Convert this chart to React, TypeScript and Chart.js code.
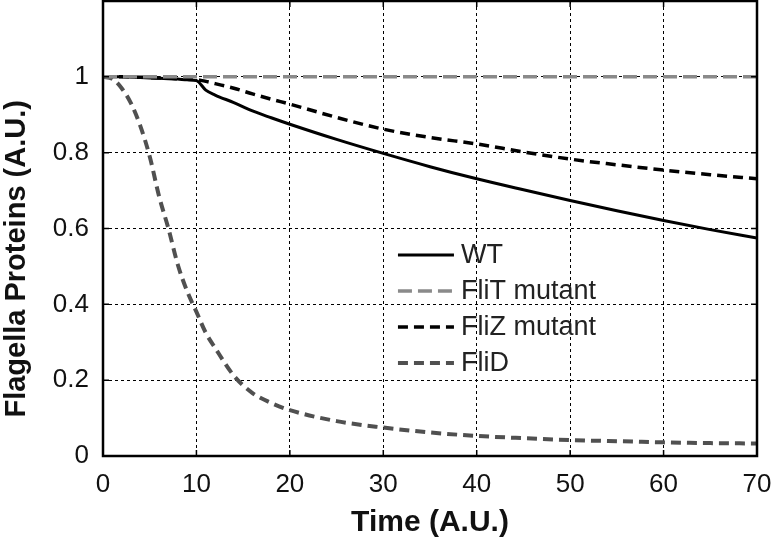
import React, { useEffect, useRef } from "react";
import { Chart, registerables } from "chart.js";

Chart.register(...registerables);

// ---- data ----
const times = [0, 1, 2, 3, 4, 5, 6, 7, 8, 9, 10, 11, 12, 14, 16, 18, 20, 25, 30, 35, 40, 45, 50, 55, 60, 65, 70];
const wtValues = [1, 1, 1, 0.999, 0.998, 0.997, 0.996, 0.995, 0.994, 0.992, 0.99, 0.965, 0.952, 0.932, 0.91, 0.892, 0.875, 0.835, 0.798, 0.763, 0.731, 0.702, 0.674, 0.647, 0.621, 0.597, 0.575];
const fliTValues = [1, 1, 1, 1, 1, 1, 1, 1, 1, 1, 1, 1, 1, 1, 1, 1, 1, 1, 1, 1, 1, 1, 1, 1, 1, 1, 1];
const fliZValues = [1, 1, 1, 0.999, 0.999, 0.998, 0.997, 0.996, 0.995, 0.994, 0.993, 0.988, 0.982, 0.97, 0.955, 0.941, 0.928, 0.893, 0.862, 0.84, 0.823, 0.802, 0.783, 0.768, 0.754, 0.742, 0.731];
const fliDValues = [1, 0.995, 0.97, 0.93, 0.87, 0.79, 0.685, 0.6, 0.505, 0.435, 0.38, 0.325, 0.285, 0.212, 0.166, 0.14, 0.121, 0.092, 0.075, 0.062, 0.053, 0.047, 0.042, 0.039, 0.036, 0.034, 0.033];

const seriesLabels = ["WT", "FliT mutant", "FliZ mutant", "FliD"];
const xTickValues = [0, 10, 20, 30, 40, 50, 60, 70];
const yTickValues = [0, 0.2, 0.4, 0.6, 0.8, 1, 1.2];
const yTickLabels = ["0", "0.2", "0.4", "0.6", "0.8", "1", ""];
const xTitle = "Time (A.U.)";
const yTitle = "Flagella Proteins (A.U.)";

const FONT = "'Liberation Sans', Arial, Helvetica, sans-serif";

const toPoints = (vals: number[]) => vals.map((v, i) => ({ x: times[i], y: v }));

// frame + inward tick marks
const framePlugin = {
  id: "frame",
  afterDatasetsDraw(chart: any) {
    const { ctx, chartArea: a, scales } = chart;
    ctx.save();
    ctx.strokeStyle = "#000";
    ctx.lineWidth = 1.5;
    ctx.setLineDash([]);
    const tl = 6;
    ctx.beginPath();
    scales.x.ticks.forEach((t: any) => {
      const px = scales.x.getPixelForValue(t.value);
      ctx.moveTo(px, a.bottom);
      ctx.lineTo(px, a.bottom - tl);
      ctx.moveTo(px, a.top);
      ctx.lineTo(px, a.top + tl);
    });
    scales.y.ticks.forEach((t: any) => {
      const py = scales.y.getPixelForValue(t.value);
      ctx.moveTo(a.left, py);
      ctx.lineTo(a.left + tl, py);
      ctx.moveTo(a.right, py);
      ctx.lineTo(a.right - tl, py);
    });
    ctx.stroke();
    ctx.lineWidth = 2.5;
    ctx.strokeRect(a.left, a.top, a.right - a.left, a.bottom - a.top);
    ctx.restore();
  },
};

// legend inside the plot + rotated y title
const overlayPlugin = {
  id: "overlay",
  afterDraw(chart: any) {
    const { ctx, chartArea: a, scales } = chart;
    const w = a.right - a.left;
    const h = a.bottom - a.top;
    ctx.save();
    const lx = a.left + 0.451 * w;
    const sampleLen = 56;
    const ly0 = a.top + 0.558 * h;
    const step = 36;
    ctx.font = `27px ${FONT}`;
    ctx.textBaseline = "middle";
    ctx.textAlign = "left";
    chart.data.datasets.forEach((ds: any, i: number) => {
      const y = ly0 + i * step;
      ctx.strokeStyle = ds.borderColor;
      ctx.lineWidth = ds.borderWidth;
      ctx.setLineDash(ds.borderDash || []);
      ctx.beginPath();
      ctx.moveTo(lx, y);
      ctx.lineTo(lx + sampleLen, y);
      ctx.stroke();
      ctx.setLineDash([]);
      ctx.fillStyle = "#222";
      ctx.fillText(ds.label, lx + sampleLen + 7, y + 1);
    });
    // y title
    const ty = scales.y.getPixelForValue(0.52);
    ctx.translate(17, ty);
    ctx.rotate(-Math.PI / 2);
    ctx.font = `bold 29px ${FONT}`;
    ctx.fillStyle = "#111";
    ctx.textAlign = "center";
    ctx.textBaseline = "middle";
    ctx.fillText(yTitle, 0, 0);
    ctx.restore();
  },
};

export default function App() {
  const ref = useRef<HTMLCanvasElement | null>(null);
  useEffect(() => {
    if (!ref.current) return;
    const chart = new Chart(ref.current, {
      type: "line",
      data: {
        datasets: [
          {
            label: seriesLabels[0],
            data: toPoints(wtValues),
            borderColor: "#000000",
            borderWidth: 3,
            borderDash: [],
            pointRadius: 0,
            cubicInterpolationMode: "monotone",
            order: 3,
          },
          {
            label: seriesLabels[1],
            data: toPoints(fliTValues),
            borderColor: "#8a8a8a",
            borderWidth: 3.5,
            borderDash: [14, 6],
            pointRadius: 0,
            order: 0,
          },
          {
            label: seriesLabels[2],
            data: toPoints(fliZValues),
            borderColor: "#000000",
            borderWidth: 3.5,
            borderDash: [10, 6],
            pointRadius: 0,
            cubicInterpolationMode: "monotone",
            order: 2,
          },
          {
            label: seriesLabels[3],
            data: toPoints(fliDValues),
            borderColor: "#505050",
            borderWidth: 4,
            borderDash: [10, 6],
            pointRadius: 0,
            cubicInterpolationMode: "monotone",
            order: 1,
          },
        ],
      },
      options: {
        responsive: false,
        animation: false,
        layout: { padding: { top: 1, right: 17, left: 0, bottom: 0 } },
        plugins: { legend: { display: false }, tooltip: { enabled: false } },
        scales: {
          x: {
            type: "linear",
            min: 0,
            max: 70,
            afterBuildTicks: (s: any) => {
              s.ticks = xTickValues.map((v) => ({ value: v }));
            },
            afterFit: (s: any) => {
              s.height = 88;
              s.paddingLeft = 0;
              s.paddingRight = 0;
              s.paddingTop = 0;
              s.paddingBottom = 0;
            },
            grid: { color: "#000", lineWidth: 1, drawTicks: false },
            border: { display: false, dash: [3, 3] },
            ticks: {
              color: "#111",
              font: { family: FONT, size: 26 },
              padding: 13,
              maxRotation: 0,
              callback: (v: any) => String(v),
            },
            title: {
              display: true,
              text: xTitle,
              color: "#111",
              font: { family: FONT, size: 30, weight: "bold" },
              padding: { top: 0, bottom: 3 },
            },
          },
          y: {
            type: "linear",
            min: 0,
            max: 1.2,
            afterBuildTicks: (s: any) => {
              s.ticks = yTickValues.map((v) => ({ value: v }));
            },
            afterFit: (s: any) => {
              s.width = 103;
              s.paddingLeft = 0;
              s.paddingRight = 0;
              s.paddingTop = 0;
              s.paddingBottom = 0;
            },
            grid: { color: "#000", lineWidth: 1, drawTicks: false },
            border: { display: false, dash: [3, 3] },
            ticks: {
              color: "#111",
              font: { family: FONT, size: 26 },
              padding: 14,
              callback: (v: any) => {
                const i = yTickValues.findIndex((t) => Math.abs(t - v) < 1e-6);
                return i >= 0 ? yTickLabels[i] : "";
              },
            },
          },
        },
      },
      plugins: [framePlugin, overlayPlugin],
    } as any);
    return () => chart.destroy();
  }, []);
  return (
    <div style={{ position: "absolute", left: 0, top: 0, width: 774, height: 544, background: "#fff" }}>
      <canvas ref={ref} width={774} height={544} />
    </div>
  );
}
